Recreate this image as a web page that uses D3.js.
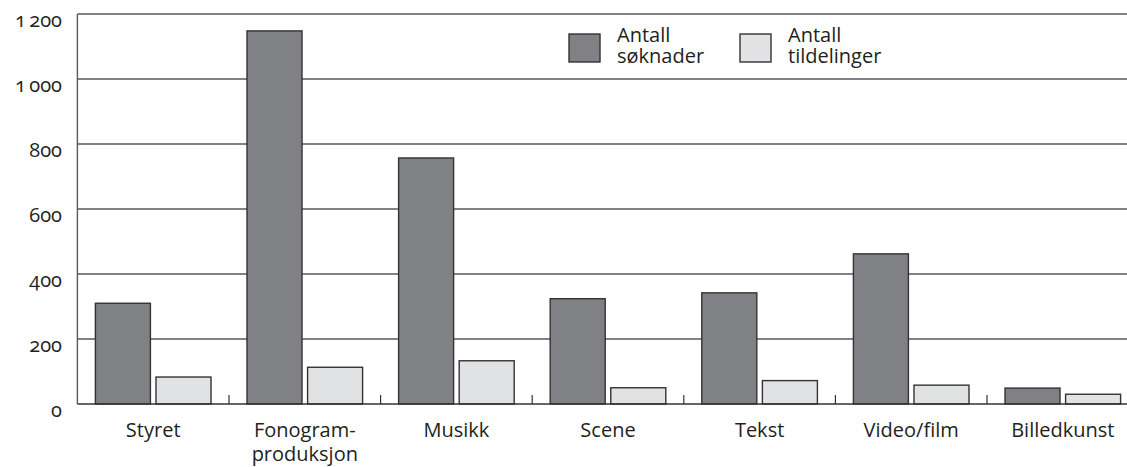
<!DOCTYPE html>
<html>
<head>
<meta charset="utf-8">
<title></title>
<style>
body { margin: 0; background: #fff; }
text {
  font-family: "Open Sans", sans-serif;
  fill: #231f20;
}
.tick-label {
  font-size: 20px;
  font-variant-numeric: oldstyle-nums;
  font-feature-settings: "onum" 1;
}
.cat-label { font-size: 20px; }
.legend-label { font-size: 20px; }
.grid { stroke: #58595b; stroke-width: 1.4px; }
</style>
</head>
<body>
<script src="https://cdn.jsdelivr.net/npm/d3@7"></script>
<script>

// data
var categories = ["Styret", "Fonogram-\nproduksjon", "Musikk", "Scene", "Tekst", "Video/film", "Billedkunst"];
var soknader = [310, 1148, 757, 324, 342, 462, 49];
var tildelinger = [83, 113, 133, 50, 72, 58, 30];
var seriesNames = ["Antall\nsøknader", "Antall\ntildelinger"];
var yTicks = [0, 200, 400, 600, 800, 1000, 1200];
var seriesColors = ["#808184", "#e1e2e3"];

var width = 1127,
    height = 467;

var svg = d3.select("body").append("svg")
    .attr("width", width)
    .attr("height", height);

var x0 = d3.scaleBand()
    .domain(categories)
    .range([77.4, 77.4 + 7 * 151.6])
    .padding(0);

var x1 = d3.scaleBand()
    .domain([0, 1])
    .range([18, x0.bandwidth() - 18])
    .paddingInner(0.092);

var y = d3.scaleLinear()
    .domain([0, 1200])
    .range([404, 14]);

// gridlines
svg.append("g")
    .selectAll("line")
    .data(yTicks.filter(function(d) { return d > 0; }))
    .enter().append("line")
    .attr("class", "grid")
    .attr("x1", x0.range()[0])
    .attr("x2", x0.range()[1])
    .attr("y1", function(d) { return y(d); })
    .attr("y2", function(d) { return y(d); });

// y axis line
svg.append("line")
    .attr("x1", x0.range()[0]).attr("x2", x0.range()[0])
    .attr("y1", y(1200)).attr("y2", y(0))
    .attr("stroke", "#58595b")
    .attr("stroke-width", 1.4);

// y tick labels
svg.append("g")
    .selectAll("text")
    .data(yTicks)
    .enter().append("text")
    .attr("class", "tick-label")
    .attr("x", 62)
    .attr("y", function(d) { return y(d) + 13; })
    .attr("text-anchor", "end")
    .text(function(d) { return d >= 1000 ? d3.format(",")(d).replace(",", "\u2009") : d; });

// bars
var rows = categories.map(function(c, i) {
  return {cat: c, values: [soknader[i], tildelinger[i]]};
});

var groups = svg.append("g")
    .selectAll("g")
    .data(rows)
    .enter().append("g")
    .attr("transform", function(d) { return "translate(" + x0(d.cat) + ",0)"; });

groups.selectAll("rect")
    .data(function(d) { return d.values.map(function(v, k) { return {k: k, v: v}; }); })
    .enter().append("rect")
    .attr("x", function(d) { return x1(d.k); })
    .attr("width", x1.bandwidth())
    .attr("y", function(d) { return y(d.v); })
    .attr("height", function(d) { return y(0) - y(d.v); })
    .attr("fill", function(d) { return seriesColors[d.k]; })
    .attr("stroke", "#333")
    .attr("stroke-width", 1.4);

// baseline
svg.append("line")
    .attr("x1", x0.range()[0]).attr("x2", x0.range()[1])
    .attr("y1", y(0)).attr("y2", y(0))
    .attr("stroke", "#333")
    .attr("stroke-width", 1.5);

// category separator ticks
svg.append("g")
    .selectAll("line")
    .data(categories.slice(1))
    .enter().append("line")
    .attr("x1", function(d) { return x0(d); })
    .attr("x2", function(d) { return x0(d); })
    .attr("y1", y(0))
    .attr("y2", y(0) - 9)
    .attr("stroke", "#333")
    .attr("stroke-width", 1.2);

// category labels
var catText = svg.append("g")
    .selectAll("text")
    .data(categories)
    .enter().append("text")
    .attr("class", "cat-label")
    .attr("text-anchor", "middle")
    .attr("x", function(d) { return x0(d) + x0.bandwidth() / 2; })
    .attr("y", 437);

catText.selectAll("tspan")
    .data(function(d) { return d.split("\n"); })
    .enter().append("tspan")
    .attr("x", function() { return d3.select(this.parentNode).attr("x"); })
    .attr("dy", function(d, i) { return i === 0 ? 0 : 24; })
    .text(function(d) { return d; });

// legend
var legendX = [569, 740];
var legend = svg.append("g")
    .selectAll("g")
    .data(seriesNames)
    .enter().append("g")
    .attr("transform", function(d, i) { return "translate(" + legendX[i] + ",34)"; });

legend.append("rect")
    .attr("width", 31)
    .attr("height", 28)
    .attr("fill", function(d, i) { return seriesColors[i]; })
    .attr("stroke", "#333")
    .attr("stroke-width", 1.4);

var legText = legend.append("text")
    .attr("class", "legend-label")
    .attr("x", 48)
    .attr("y", 8);

legText.selectAll("tspan")
    .data(function(d) { return d.split("\n"); })
    .enter().append("tspan")
    .attr("x", 48)
    .attr("dy", function(d, i) { return i === 0 ? 0 : 21; })
    .text(function(d) { return d; });

</script>
</body>
</html>
